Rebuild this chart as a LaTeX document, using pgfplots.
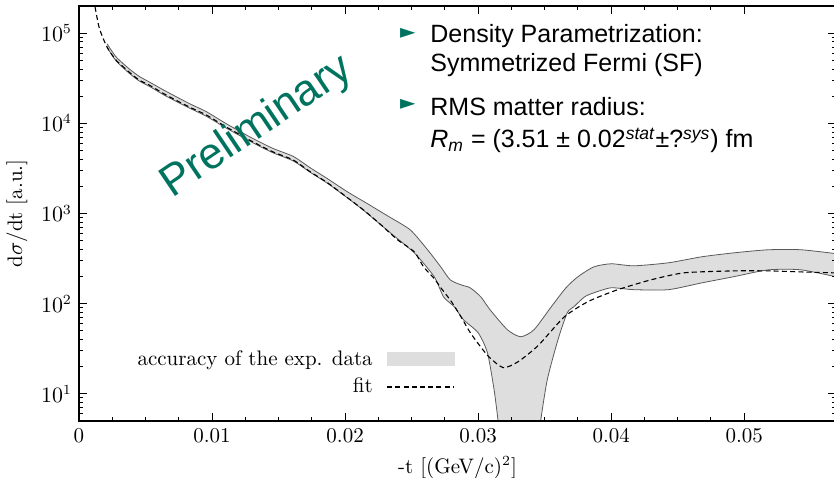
\documentclass[border=0pt]{standalone}
\usepackage{pgfplots}
\pgfplotsset{compat=1.18}
\usepgfplotslibrary{fillbetween}
\usepackage{fontspec}
\newfontfamily\helv{Liberation Sans}
\newfontfamily\symf{DejaVu Sans}
\definecolor{tealc}{RGB}{0,115,95}
\definecolor{bandgray}{RGB}{222,222,222}
\begin{document}
\begin{tikzpicture}
\begin{axis}[
  set layers, axis on top,
  scale only axis, width=378.5pt, height=207.5pt,
  xmin=0, xmax=0.0569, ymode=log, ymin=5, ymax=2e5,
  xtick={0,0.01,0.02,0.03,0.04,0.05},
  xticklabels={0,0.01,0.02,0.03,0.04,0.05},
  scaled x ticks=false,
  minor x tick num=3,
  tick align=inside,
  major tick length=4pt, minor tick length=2pt,
  axis line style={line width=0.8pt},
  tick style={line width=0.5pt, black},
  tick label style={font=\fontsize{10.5}{12}\selectfont},
  label style={font=\fontsize{10.5}{12}\selectfont},
  xlabel={-t [(GeV/c)$^2$]},
  ylabel={d$\sigma$/dt [a.u.]},
  legend style={draw=none, fill=none, at={(0.497,0.181)}, anchor=north east,
    font=\fontsize{10.5}{12}\selectfont, row sep=1pt, inner sep=0pt,
    /tikz/every odd column/.append style={column sep=5pt}},
  legend cell align=right, legend plot pos=right,
]
\addplot[name path=up, draw=black!65, line width=0.4pt, smooth, tension=0.4, forget plot]
 coordinates {
 (0.00211,7.6e4) (0.00279,5.45e4) (0.00377,4.02e4) (0.00452,3.32e4) (0.00527,2.88e4)
 (0.00655,2.26e4) (0.00828,1.66e4) (0.00956,1.35e4) (0.01107,9.9e3)
 (0.0131,6.75e3) (0.0146,5.25e3) (0.0161,4.30e3) (0.0174,3.20e3)
 (0.0187,2.42e3) (0.0202,1.73e3) (0.0217,1.28e3) (0.0232,940) (0.0249,658)
 (0.0262,396) (0.0272,255) (0.0279,184) (0.0287,162) (0.0294,150) (0.0302,119)
 (0.0309,85.5) (0.0322,51.4) (0.0332,43.0) (0.0342,51.4) (0.0355,92.5) (0.0366,150)
 (0.0375,199) (0.0387,256) (0.0400,277) (0.0417,263) (0.0443,284) (0.0468,331)
 (0.0492,366) (0.0518,396) (0.0543,396) (0.0575,350)
 };
\addplot[name path=lo, draw=black!65, line width=0.4pt, smooth, tension=0.4, forget plot]
 coordinates {
 (0.00211,6.95e4) (0.00279,4.92e4) (0.00377,3.60e4) (0.00452,2.95e4) (0.00527,2.58e4)
 (0.00655,2.00e4) (0.00828,1.48e4) (0.00956,1.20e4) (0.01107,8.85e3)
 (0.0131,6.05e3) (0.0146,4.70e3) (0.0161,3.83e3) (0.0174,2.85e3)
 (0.0187,2.15e3) (0.0202,1.48e3) (0.0214,1.08e3) (0.0234,610) (0.0252,366)
 (0.0267,199) (0.0274,119) (0.0282,92.5) (0.0289,66.4) (0.0300,47.6) (0.0307,28.6)
 (0.0312,11.1) (0.0315,5.0) (0.0317,2.5) (0.0330,1) (0.0345,2.5) (0.0347,5.0)
 (0.0352,14.4) (0.0360,39.8) (0.0367,79.3) (0.0372,92.5) (0.0380,119) (0.0387,132)
 (0.0400,150) (0.0417,143) (0.0443,143) (0.0468,170) (0.0492,199) (0.0518,237)
 (0.0543,237) (0.0575,190)
 };
\addplot[bandgray,
  legend image code/.code={\fill[bandgray] (0pt,-3.25pt) rectangle (33.5pt,3.25pt);}]
  fill between[of=up and lo];
\addlegendentry{accuracy of the exp. data}
\addplot[black, line width=0.55pt, dash pattern=on 2.5pt off 1.6pt, smooth, tension=0.4,
  legend image code/.code={\draw[black, line width=0.55pt, dash pattern=on 2.5pt off 1.6pt] (0pt,0pt) -- (33.5pt,0pt);}]
 coordinates {
 (0.0011,2.4e5) (0.00151,1.16e5) (0.00211,7.0e4) (0.00279,5.02e4) (0.00377,3.70e4)
 (0.00452,3.02e4) (0.00527,2.66e4) (0.00655,2.06e4) (0.00828,1.52e4) (0.00956,1.24e4)
 (0.01107,9.1e3) (0.0131,6.2e3) (0.0146,4.81e3) (0.0161,3.92e3) (0.0174,2.89e3)
 (0.0187,2.18e3) (0.0202,1.49e3) (0.0214,1.09e3) (0.0227,748) (0.02395,510)
 (0.0252,376) (0.0259,256) (0.0267,190) (0.0272,150) (0.0280,105) (0.0287,72)
 (0.0294,48) (0.0302,33) (0.0309,25) (0.0319,19.5) (0.0330,22.7) (0.0345,34.2)
 (0.0364,69.8) (0.0377,94.8) (0.0387,113) (0.0405,143) (0.0430,184) (0.0455,220)
 (0.0492,231) (0.0518,231) (0.0543,225) (0.0575,218)
 };
\addlegendentry{fit}
\node[rotate=34, text=tealc, font=\helv\fontsize{22}{22}\selectfont]
  at (rel axis cs:0.235,0.708) {Preliminary};
\node[text=tealc, font=\symf\fontsize{10}{10}\selectfont] at (rel axis cs:0.4345,0.935) {►};
\node[text=tealc, font=\symf\fontsize{10}{10}\selectfont] at (rel axis cs:0.4345,0.764) {►};
\node[anchor=base west, inner sep=0pt, font=\helv\fontsize{12.5}{14}\selectfont]
  at (rel axis cs:0.4637,0.911) {Density Parametrization:};
\node[anchor=base west, inner sep=0pt, font=\helv\fontsize{12.5}{14}\selectfont]
  at (rel axis cs:0.4637,0.841) {Symmetrized Fermi (SF)};
\node[anchor=base west, inner sep=0pt, font=\helv\fontsize{12.5}{14}\selectfont]
  at (rel axis cs:0.4637,0.737) {RMS matter radius:};
\node[anchor=base west, inner sep=0pt, font=\helv\fontsize{12.5}{14}\selectfont]
  at (rel axis cs:0.4637,0.658) {\textit{R}\textsubscript{\textit{m}} = (3.51 ± 0.02\textsuperscript{\textit{stat}}±?\textsuperscript{\textit{sys}}) fm};
\end{axis}
\pgfresetboundingbox
\path[use as bounding box] (current axis.south west) ++(-39.5pt,-28pt) rectangle ++(417pt,238.5pt);
\end{tikzpicture}
\end{document}
